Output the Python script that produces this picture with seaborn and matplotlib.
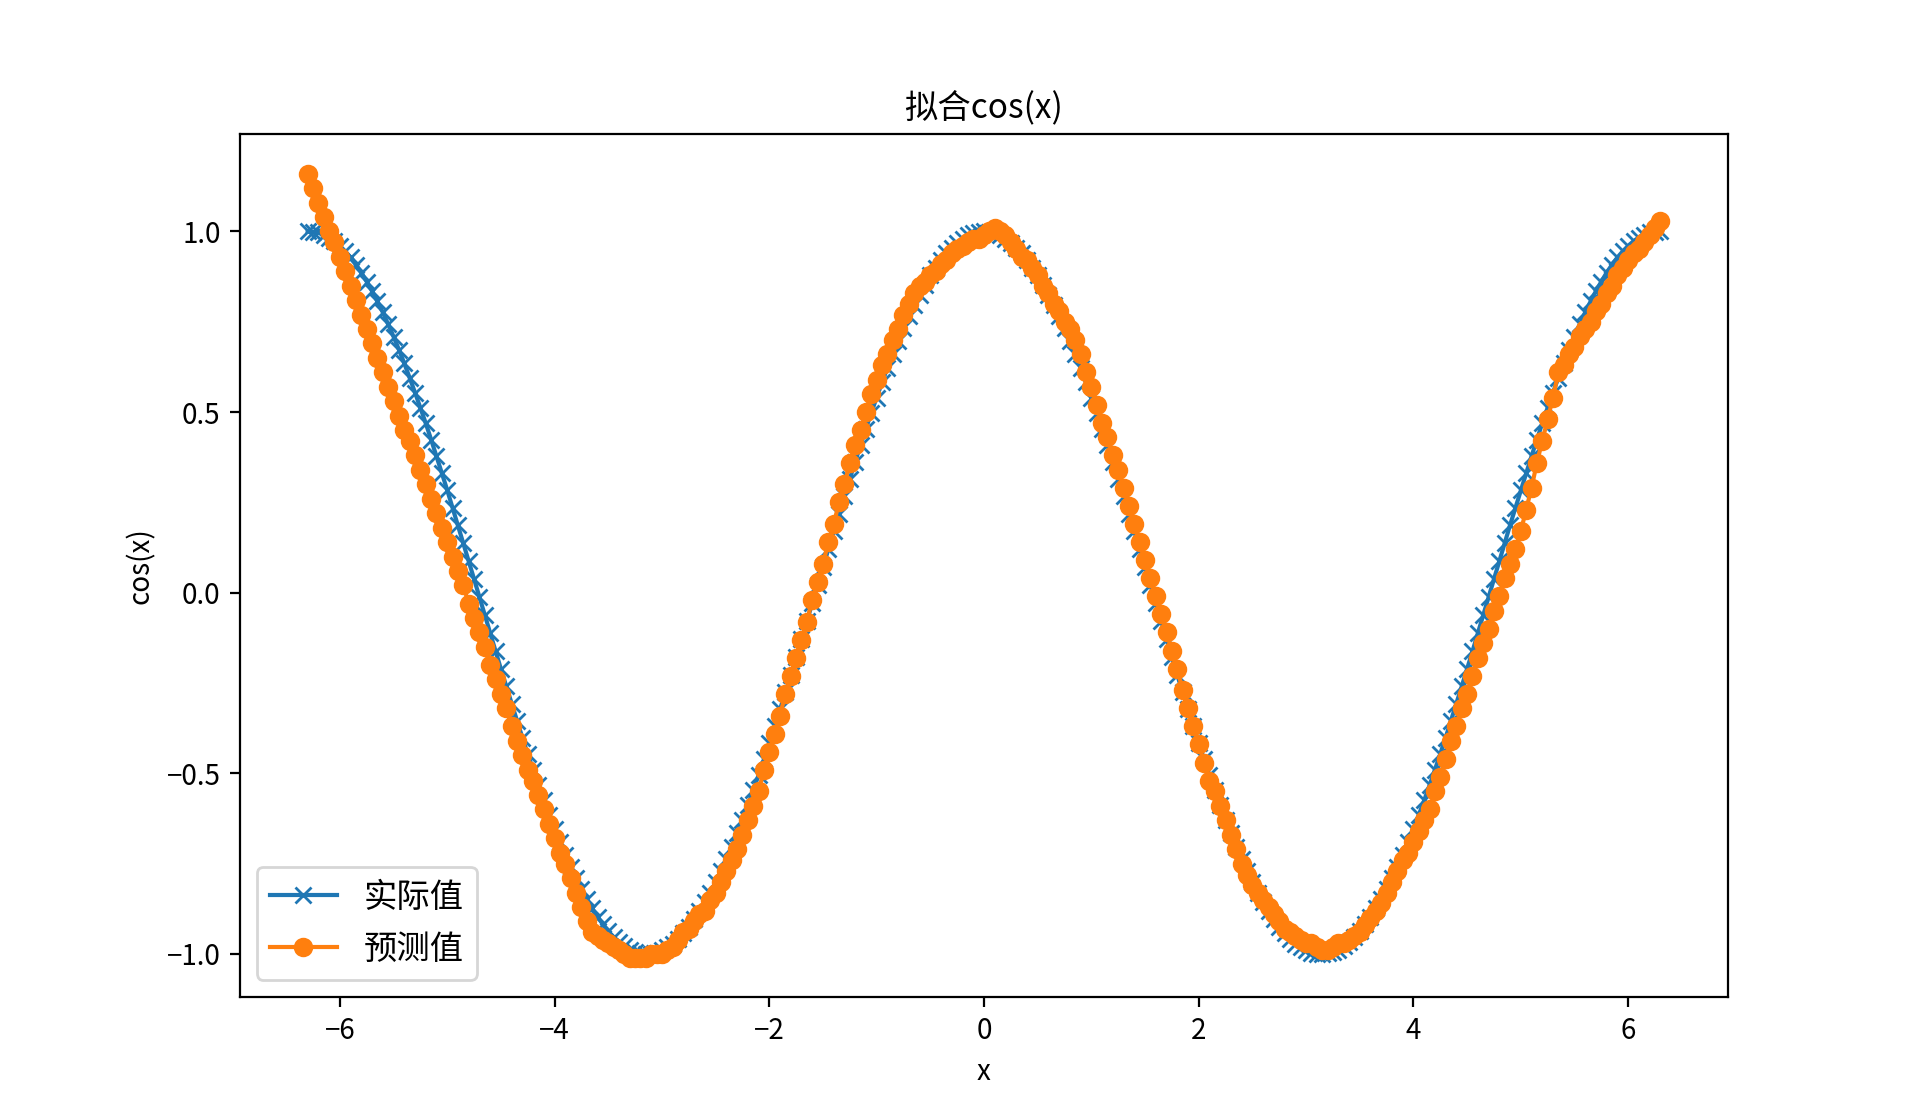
import matplotlib
matplotlib.use("Agg")
import matplotlib.pyplot as plt
import seaborn as sns
import pandas as pd

# x 采样点 (从图上读取, 间隔约 0.05)
x_vals = [
    -6.30, -6.25, -6.20, -6.15, -6.10, -6.05, -6.00, -5.95, -5.90, -5.85,
    -5.80, -5.75, -5.70, -5.65, -5.60, -5.55, -5.50, -5.45, -5.40, -5.35,
    -5.30, -5.25, -5.20, -5.15, -5.10, -5.05, -5.00, -4.95, -4.90, -4.85,
    -4.80, -4.75, -4.70, -4.65, -4.60, -4.55, -4.50, -4.45, -4.40, -4.35,
    -4.30, -4.25, -4.20, -4.15, -4.10, -4.05, -4.00, -3.95, -3.90, -3.85,
    -3.80, -3.75, -3.70, -3.65, -3.60, -3.55, -3.50, -3.45, -3.40, -3.35,
    -3.30, -3.25, -3.20, -3.15, -3.10, -3.05, -3.00, -2.95, -2.90, -2.85,
    -2.80, -2.75, -2.70, -2.65, -2.60, -2.55, -2.50, -2.45, -2.40, -2.35,
    -2.30, -2.25, -2.20, -2.15, -2.10, -2.05, -2.00, -1.95, -1.90, -1.85,
    -1.80, -1.75, -1.70, -1.65, -1.60, -1.55, -1.50, -1.45, -1.40, -1.35,
    -1.30, -1.25, -1.20, -1.15, -1.10, -1.05, -1.00, -0.95, -0.90, -0.85,
    -0.80, -0.75, -0.70, -0.65, -0.60, -0.55, -0.50, -0.45, -0.40, -0.35,
    -0.30, -0.25, -0.20, -0.15, -0.10, -0.05, 0.00, 0.05, 0.10, 0.15,
    0.20, 0.25, 0.30, 0.35, 0.40, 0.45, 0.50, 0.55, 0.60, 0.65,
    0.70, 0.75, 0.80, 0.85, 0.90, 0.95, 1.00, 1.05, 1.10, 1.15,
    1.20, 1.25, 1.30, 1.35, 1.40, 1.45, 1.50, 1.55, 1.60, 1.65,
    1.70, 1.75, 1.80, 1.85, 1.90, 1.95, 2.00, 2.05, 2.10, 2.15,
    2.20, 2.25, 2.30, 2.35, 2.40, 2.45, 2.50, 2.55, 2.60, 2.65,
    2.70, 2.75, 2.80, 2.85, 2.90, 2.95, 3.00, 3.05, 3.10, 3.15,
    3.20, 3.25, 3.30, 3.35, 3.40, 3.45, 3.50, 3.55, 3.60, 3.65,
    3.70, 3.75, 3.80, 3.85, 3.90, 3.95, 4.00, 4.05, 4.10, 4.15,
    4.20, 4.25, 4.30, 4.35, 4.40, 4.45, 4.50, 4.55, 4.60, 4.65,
    4.70, 4.75, 4.80, 4.85, 4.90, 4.95, 5.00, 5.05, 5.10, 5.15,
    5.20, 5.25, 5.30, 5.35, 5.40, 5.45, 5.50, 5.55, 5.60, 5.65,
    5.70, 5.75, 5.80, 5.85, 5.90, 5.95, 6.00, 6.05, 6.10, 6.15,
    6.20, 6.25, 6.30,
]

# 实际值
y_actual = [
    1.000, 0.999, 0.997, 0.991, 0.983, 0.973, 0.960, 0.945, 0.928, 0.908,
    0.886, 0.861, 0.835, 0.806, 0.776, 0.743, 0.709, 0.673, 0.635, 0.595,
    0.554, 0.512, 0.469, 0.424, 0.378, 0.331, 0.284, 0.235, 0.187, 0.137,
    0.088, 0.038, -0.012, -0.062, -0.112, -0.162, -0.211, -0.259, -0.307, -0.354,
    -0.401, -0.446, -0.490, -0.533, -0.575, -0.615, -0.654, -0.691, -0.726, -0.759,
    -0.791, -0.821, -0.848, -0.874, -0.897, -0.918, -0.937, -0.953, -0.967, -0.978,
    -0.988, -0.994, -0.998, -1.000, -0.999, -0.996, -0.990, -0.982, -0.971, -0.958,
    -0.942, -0.924, -0.904, -0.882, -0.857, -0.830, -0.801, -0.770, -0.737, -0.703,
    -0.666, -0.628, -0.589, -0.547, -0.505, -0.461, -0.416, -0.370, -0.323, -0.276,
    -0.227, -0.178, -0.129, -0.079, -0.029, 0.021, 0.071, 0.121, 0.170, 0.219,
    0.268, 0.315, 0.362, 0.409, 0.454, 0.498, 0.540, 0.582, 0.622, 0.660,
    0.697, 0.732, 0.765, 0.796, 0.825, 0.853, 0.878, 0.900, 0.921, 0.939,
    0.955, 0.969, 0.980, 0.989, 0.995, 0.999, 1.000, 0.999, 0.995, 0.989,
    0.980, 0.969, 0.955, 0.939, 0.921, 0.900, 0.878, 0.853, 0.825, 0.796,
    0.765, 0.732, 0.697, 0.660, 0.622, 0.582, 0.540, 0.498, 0.454, 0.409,
    0.362, 0.315, 0.268, 0.219, 0.170, 0.121, 0.071, 0.021, -0.029, -0.079,
    -0.129, -0.178, -0.227, -0.276, -0.323, -0.370, -0.416, -0.461, -0.505, -0.547,
    -0.589, -0.628, -0.666, -0.703, -0.737, -0.770, -0.801, -0.830, -0.857, -0.882,
    -0.904, -0.924, -0.942, -0.958, -0.971, -0.982, -0.990, -0.996, -0.999, -1.000,
    -0.998, -0.994, -0.988, -0.978, -0.967, -0.953, -0.937, -0.918, -0.897, -0.874,
    -0.848, -0.821, -0.791, -0.759, -0.726, -0.691, -0.654, -0.615, -0.575, -0.533,
    -0.490, -0.446, -0.401, -0.354, -0.307, -0.259, -0.211, -0.162, -0.112, -0.062,
    -0.012, 0.038, 0.088, 0.137, 0.187, 0.235, 0.284, 0.331, 0.378, 0.424,
    0.469, 0.512, 0.554, 0.595, 0.635, 0.673, 0.709, 0.743, 0.776, 0.806,
    0.835, 0.861, 0.886, 0.908, 0.928, 0.945, 0.960, 0.973, 0.983, 0.991,
    0.997, 0.999, 1.000,
]

# 预测值
y_pred = [
    1.16, 1.12, 1.08, 1.04, 1.00, 0.97, 0.93, 0.89, 0.85, 0.81,
    0.77, 0.73, 0.69, 0.65, 0.61, 0.57, 0.53, 0.49, 0.45, 0.42,
    0.38, 0.34, 0.30, 0.26, 0.22, 0.18, 0.14, 0.10, 0.06, 0.02,
    -0.03, -0.07, -0.11, -0.15, -0.20, -0.24, -0.28, -0.32, -0.37, -0.41,
    -0.45, -0.49, -0.52, -0.56, -0.60, -0.64, -0.68, -0.72, -0.75, -0.79,
    -0.83, -0.87, -0.91, -0.94, -0.95, -0.96, -0.97, -0.98, -0.99, -1.00,
    -1.01, -1.01, -1.01, -1.01, -1.00, -1.00, -1.00, -0.99, -0.98, -0.96,
    -0.94, -0.93, -0.91, -0.89, -0.88, -0.85, -0.83, -0.80, -0.77, -0.74,
    -0.71, -0.67, -0.63, -0.59, -0.55, -0.49, -0.44, -0.39, -0.34, -0.28,
    -0.23, -0.18, -0.13, -0.08, -0.02, 0.03, 0.08, 0.14, 0.19, 0.25,
    0.30, 0.36, 0.41, 0.45, 0.50, 0.55, 0.59, 0.63, 0.66, 0.70,
    0.73, 0.77, 0.80, 0.83, 0.85, 0.86, 0.88, 0.89, 0.91, 0.92,
    0.94, 0.95, 0.96, 0.97, 0.98, 0.98, 0.99, 1.00, 1.01, 1.00,
    0.99, 0.97, 0.95, 0.93, 0.92, 0.90, 0.88, 0.85, 0.83, 0.80,
    0.78, 0.75, 0.73, 0.70, 0.66, 0.61, 0.57, 0.52, 0.47, 0.43,
    0.38, 0.34, 0.29, 0.24, 0.19, 0.14, 0.09, 0.04, -0.01, -0.06,
    -0.11, -0.16, -0.21, -0.27, -0.32, -0.37, -0.42, -0.47, -0.52, -0.55,
    -0.59, -0.63, -0.67, -0.71, -0.75, -0.78, -0.81, -0.83, -0.85, -0.87,
    -0.89, -0.91, -0.93, -0.94, -0.95, -0.96, -0.97, -0.97, -0.98, -0.99,
    -0.99, -0.98, -0.97, -0.97, -0.96, -0.95, -0.94, -0.92, -0.90, -0.88,
    -0.86, -0.83, -0.80, -0.77, -0.74, -0.72, -0.69, -0.66, -0.63, -0.60,
    -0.55, -0.51, -0.46, -0.41, -0.37, -0.32, -0.28, -0.23, -0.18, -0.14,
    -0.10, -0.05, -0.01, 0.04, 0.08, 0.12, 0.17, 0.23, 0.29, 0.36,
    0.42, 0.48, 0.54, 0.61, 0.63, 0.66, 0.68, 0.71, 0.73, 0.75,
    0.78, 0.80, 0.83, 0.85, 0.88, 0.90, 0.92, 0.94, 0.95, 0.97,
    0.99, 1.01, 1.03,
]

labels = ['实际值', '预测值']

plt.rcParams['font.family'] = ['Noto Sans CJK SC', 'DejaVu Sans']
plt.rcParams['axes.unicode_minus'] = True

df = pd.DataFrame({'x': x_vals, 'actual': y_actual, 'pred': y_pred})

fig, ax = plt.subplots(figsize=(9.6, 5.6), dpi=200)

sns.lineplot(data=df, x='x', y='actual', ax=ax, color='#1f77b4', marker='x',
             markersize=6, markeredgecolor='#1f77b4', markeredgewidth=1.0,
             linewidth=1.5, label=labels[0])
sns.lineplot(data=df, x='x', y='pred', ax=ax, color='#ff7f0e', marker='o',
             markersize=6, markeredgecolor='#ff7f0e', markeredgewidth=1.0,
             linewidth=1.5, label=labels[1])

ax.set_title('拟合cos(x)')
ax.set_xlabel('x')
ax.set_ylabel('cos(x)')
ax.legend(loc='lower left', fontsize=12)

fig.savefig('out.png', dpi=200)
